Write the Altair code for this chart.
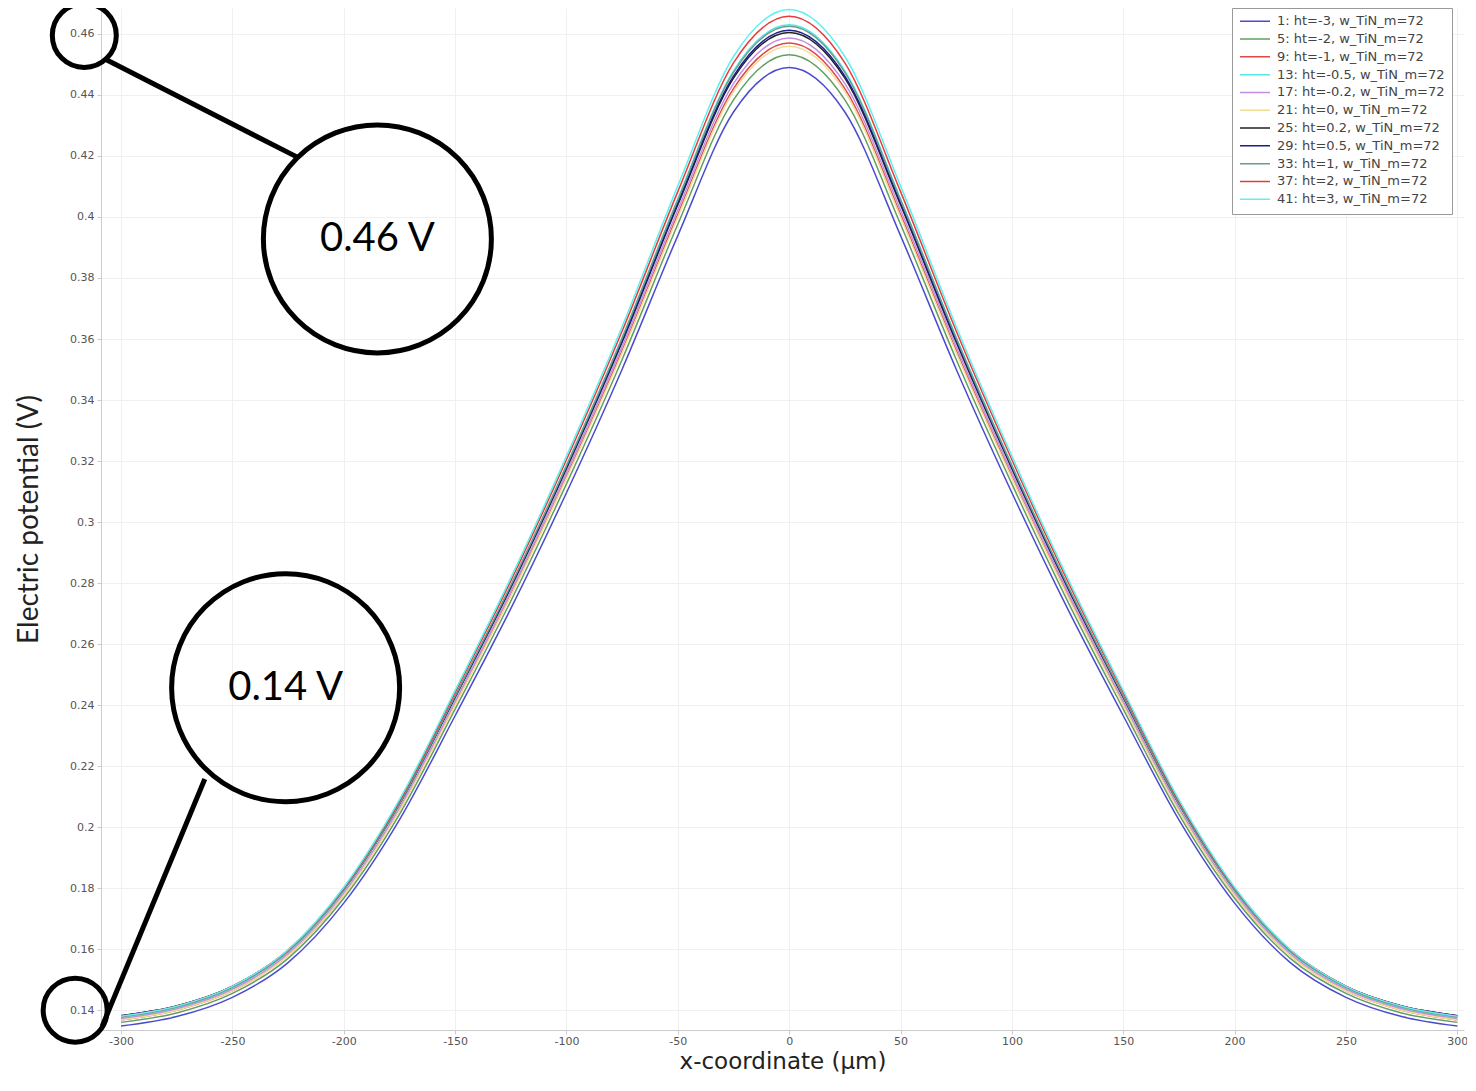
import altair as alt
import pandas as pd

# x positions (µm)
x_vals = [-300, -275, -250, -225, -200, -175, -150, -125, -100, -75, -50, -25, 0,
          25, 50, 75, 100, 125, 150, 175, 200, 225, 250, 275, 300]

series_names = [
    "1: ht=-3, w_TiN_m=72",
    "5: ht=-2, w_TiN_m=72",
    "9: ht=-1, w_TiN_m=72",
    "13: ht=-0.5, w_TiN_m=72",
    "17: ht=-0.2, w_TiN_m=72",
    "21: ht=0, w_TiN_m=72",
    "25: ht=0.2, w_TiN_m=72",
    "29: ht=0.5, w_TiN_m=72",
    "33: ht=1, w_TiN_m=72",
    "37: ht=2, w_TiN_m=72",
    "41: ht=3, w_TiN_m=72",
]

series_colors = ["#4b4bd0", "#5f9f5f", "#e04848", "#55e6e6", "#c08ee6", "#f2dc96",
                 "#222222", "#1c1c8c", "#6a9e8a", "#e83c3c", "#5ff0f0"]

v1 = [0.1348, 0.1379, 0.1442, 0.1556, 0.1751, 0.2024, 0.2365, 0.2716, 0.3096, 0.3501, 0.3939, 0.4344, 0.4490,
      0.4344, 0.3939, 0.3501, 0.3096, 0.2716, 0.2365, 0.2024, 0.1751, 0.1556, 0.1442, 0.1379, 0.1348]
v5 = [0.1360, 0.1391, 0.1455, 0.1570, 0.1767, 0.2042, 0.2387, 0.2741, 0.3125, 0.3533, 0.3976, 0.4384, 0.4532,
      0.4384, 0.3976, 0.3533, 0.3125, 0.2741, 0.2387, 0.2042, 0.1767, 0.1570, 0.1455, 0.1391, 0.1360]
v9 = [0.1368, 0.1400, 0.1463, 0.1580, 0.1778, 0.2057, 0.2404, 0.2762, 0.3149, 0.3562, 0.4009, 0.4421, 0.4570,
      0.4421, 0.4009, 0.3562, 0.3149, 0.2762, 0.2404, 0.2057, 0.1778, 0.1580, 0.1463, 0.1400, 0.1368]
v13 = [0.1375, 0.1407, 0.1472, 0.1590, 0.1792, 0.2075, 0.2428, 0.2792, 0.3186, 0.3605, 0.4059, 0.4479, 0.4630,
       0.4479, 0.4059, 0.3605, 0.3186, 0.2792, 0.2428, 0.2075, 0.1792, 0.1590, 0.1472, 0.1407, 0.1375]
v17 = [0.1372, 0.1404, 0.1468, 0.1585, 0.1784, 0.2063, 0.2412, 0.2772, 0.3161, 0.3575, 0.4023, 0.4437, 0.4587,
       0.4437, 0.4023, 0.3575, 0.3161, 0.2772, 0.2412, 0.2063, 0.1784, 0.1585, 0.1468, 0.1404, 0.1372]
v21 = [0.1368, 0.1400, 0.1463, 0.1579, 0.1777, 0.2054, 0.2401, 0.2758, 0.3144, 0.3555, 0.4000, 0.4411, 0.4560,
       0.4411, 0.4000, 0.3555, 0.3144, 0.2758, 0.2401, 0.2054, 0.1777, 0.1579, 0.1463, 0.1400, 0.1368]
v25 = [0.1382, 0.1414, 0.1478, 0.1595, 0.1795, 0.2075, 0.2425, 0.2785, 0.3175, 0.3590, 0.4040, 0.4455, 0.4605,
       0.4455, 0.4040, 0.3590, 0.3175, 0.2785, 0.2425, 0.2075, 0.1795, 0.1595, 0.1478, 0.1414, 0.1382]
v29 = [0.1382, 0.1414, 0.1478, 0.1596, 0.1796, 0.2077, 0.2427, 0.2788, 0.3179, 0.3595, 0.4046, 0.4462, 0.4612,
       0.4462, 0.4046, 0.3595, 0.3179, 0.2788, 0.2427, 0.2077, 0.1796, 0.1596, 0.1478, 0.1414, 0.1382]
v33 = [0.1378, 0.1410, 0.1475, 0.1593, 0.1794, 0.2076, 0.2429, 0.2792, 0.3184, 0.3603, 0.4056, 0.4474, 0.4625,
       0.4474, 0.4056, 0.3603, 0.3184, 0.2792, 0.2429, 0.2076, 0.1794, 0.1593, 0.1475, 0.1410, 0.1378]
v37 = [0.1380, 0.1413, 0.1478, 0.1597, 0.1800, 0.2085, 0.2441, 0.2807, 0.3204, 0.3626, 0.4083, 0.4505, 0.4658,
       0.4505, 0.4083, 0.3626, 0.3204, 0.2807, 0.2441, 0.2085, 0.1800, 0.1597, 0.1478, 0.1413, 0.1380]
v41 = [0.1380, 0.1413, 0.1478, 0.1598, 0.1803, 0.2090, 0.2448, 0.2817, 0.3216, 0.3641, 0.4102, 0.4526, 0.4680,
       0.4526, 0.4102, 0.3641, 0.3216, 0.2817, 0.2448, 0.2090, 0.1803, 0.1598, 0.1478, 0.1413, 0.1380]

all_values = [v1, v5, v9, v13, v17, v21, v25, v29, v33, v37, v41]

x_ticks = [-300, -250, -200, -150, -100, -50, 0, 50, 100, 150, 200, 250, 300]
y_ticks = [0.14, 0.16, 0.18, 0.20, 0.22, 0.24, 0.26, 0.28, 0.30, 0.32, 0.34, 0.36,
           0.38, 0.40, 0.42, 0.44, 0.46]

# callout annotations (data units)
circle_x = [-316.5, -184.9, -320.6, -226.1]
circle_y = [0.4595, 0.3928, 0.1400, 0.2457]
circle_size = [4096, 51984, 4096, 51984]
label_x = [-184.9, -226.1]
label_y = [0.3928, 0.2457]
label_text = ["0.46 V", "0.14 V"]
leader_x = [-306.8, -308.5]
leader_y = [0.4516, 0.1347]
leader_x2 = [-221.1, -262.4]
leader_y2 = [0.4197, 0.2158]

rows = []
for name, vals in zip(series_names, all_values):
    for xv, yv in zip(x_vals, vals):
        rows.append({"x": xv, "v": yv, "series": name})
df = pd.DataFrame(rows)

circles_df = pd.DataFrame({"x": circle_x, "y": circle_y, "s": circle_size})
labels_df = pd.DataFrame({"x": label_x, "y": label_y, "t": label_text})
leaders_df = pd.DataFrame({"x": leader_x, "y": leader_y, "x2": leader_x2, "y2": leader_y2})

xscale = alt.Scale(domain=[-309, 303], nice=False, zero=False)
yscale = alt.Scale(domain=[0.1335, 0.4685], nice=False, zero=False)

lines = alt.Chart(df).mark_line(strokeWidth=1.5, interpolate="monotone", clip=True).encode(
    x=alt.X("x:Q", scale=xscale,
            axis=alt.Axis(values=x_ticks, labelExpr="datum.value + ''", title="x-coordinate (µm)",
                          titleFont="DejaVu Sans", titleFontSize=23, titleFontWeight="normal",
                          titleColor="#222222", titlePadding=4, labelPadding=1, tickSize=4)),
    y=alt.Y("v:Q", scale=yscale,
            axis=alt.Axis(values=y_ticks, format=".2~f", title="Electric potential (V)",
                          titleFont="Lato", titleFontSize=28, titleFontWeight="normal",
                          titleColor="#222222", titlePadding=26, labelPadding=3, tickSize=4)),
    color=alt.Color("series:N", sort=series_names,
                    scale=alt.Scale(domain=series_names, range=series_colors),
                    legend=alt.Legend(title=None, orient="none", legendX=1131, legendY=0,
                                      symbolType="stroke", symbolSize=900, symbolStrokeWidth=1.5,
                                      labelFont="DejaVu Sans", labelFontSize=13, labelColor="#444444",
                                      strokeColor="#999999", fillColor="white", padding=7,
                                      rowPadding=3.8, clipHeight=12.5, labelOffset=6, labelLimit=300)),
    detail="series:N",
)

circles = alt.Chart(circles_df).mark_point(shape="circle", filled=False, stroke="black",
                                           strokeWidth=5, opacity=1, clip=False).encode(
    x=alt.X("x:Q", scale=xscale), y=alt.Y("y:Q", scale=yscale),
    size=alt.Size("s:Q", scale=None, legend=None),
)

leaders = alt.Chart(leaders_df).mark_rule(strokeWidth=5, color="black", clip=False).encode(
    x=alt.X("x:Q", scale=xscale), y=alt.Y("y:Q", scale=yscale),
    x2="x2:Q", y2="y2:Q",
)

labels = alt.Chart(labels_df).mark_text(font="Lato", fontSize=40, color="black").encode(
    x=alt.X("x:Q", scale=xscale), y=alt.Y("y:Q", scale=yscale), text="t:N",
)

chart = alt.layer(lines, leaders, circles, labels).properties(
    width=1363, height=1022,
    autosize=alt.AutoSizeParams(type="none"),
    padding={"left": 93, "top": 0, "right": 3, "bottom": 46},
).configure_view(stroke=None).configure_axis(
    domainColor="#cccccc", tickColor="#cccccc", gridColor="#f0f0f0",
    labelColor="#555555", labelFont="DejaVu Sans", labelFontSize=11,
)

chart.save("out.html", embed_options={"renderer": "svg", "actions": False})
